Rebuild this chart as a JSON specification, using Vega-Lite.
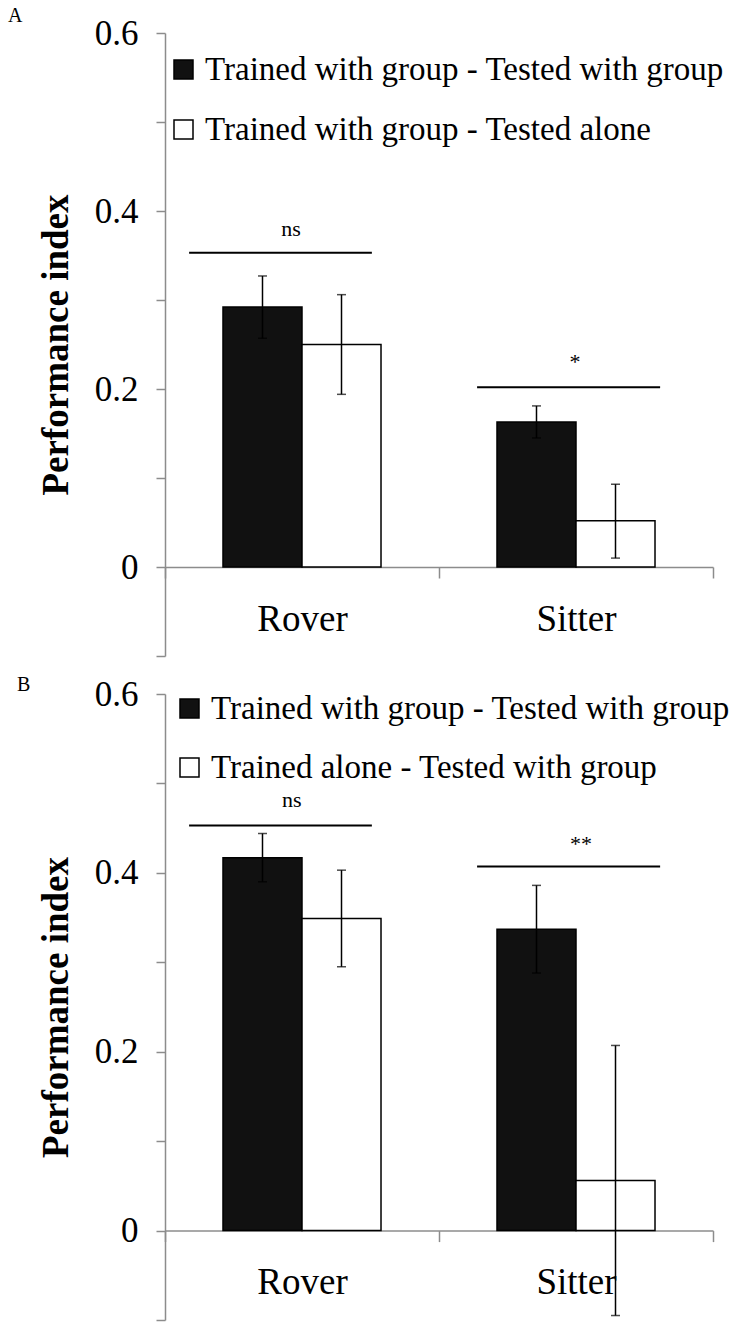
{
  "$schema": "https://vega.github.io/schema/vega-lite/v6.json",
  "padding": {"left": 8, "top": 6, "right": 0, "bottom": 0},
  "bounds": "flush",
  "spacing": 38,
  "config": {
    "view": {"stroke": null},
    "font": "Liberation Serif, Times New Roman, DejaVu Serif, serif",
    "axis": {"labelFont": "Liberation Serif, Times New Roman, DejaVu Serif, serif", "titleFont": "Liberation Serif, Times New Roman, DejaVu Serif, serif", "labelColor": "black", "titleColor": "black", "grid": false},
    "legend": {"labelFont": "Liberation Serif, Times New Roman, DejaVu Serif, serif"},
    "title": {"font": "Liberation Serif, Times New Roman, DejaVu Serif, serif"},
    "text": {"font": "Liberation Serif, Times New Roman, DejaVu Serif, serif"}
  },
  "resolve": {"scale": {"color": "independent", "xOffset": "independent"}, "legend": {"color": "independent"}},
  "vconcat": [
    {
      "width": 548,
      "height": 623,
      "title": {"text": "A", "anchor": "start", "frame": "group", "dx": -157, "offset": -10, "fontSize": 20, "fontWeight": "normal", "color": "black"},
      "layer": [
        {
          "data": {"values": [
            {"cat": "Rover", "group": "Trained with group - Tested with group", "mean": 0.292, "lo": 0.257, "hi": 0.327},
            {"cat": "Rover", "group": "Trained with group - Tested alone", "mean": 0.250, "lo": 0.194, "hi": 0.306},
            {"cat": "Sitter", "group": "Trained with group - Tested with group", "mean": 0.163, "lo": 0.145, "hi": 0.181},
            {"cat": "Sitter", "group": "Trained with group - Tested alone", "mean": 0.052, "lo": 0.010, "hi": 0.093}
          ]},
          "encoding": {
            "x": {"field": "cat", "type": "nominal", "sort": ["Rover", "Sitter"], "scale": {"domain": ["Rover", "Sitter"], "paddingInner": 0, "paddingOuter": 0},
              "axis": {"title": null, "orient": "bottom", "offset": -89, "tickBand": "extent", "tickSize": 11, "tickColor": "#8c8c8c", "tickWidth": 1.5, "domainColor": "#8c8c8c", "domainWidth": 1.5, "labelFontSize": 37, "labelPadding": 23, "labelAngle": 0}},
            "xOffset": {"field": "group", "type": "nominal", "scale": {"domain": ["Trained with group - Tested with group", "Trained with group - Tested alone"], "paddingInner": 0, "paddingOuter": 0.734}}
          },
          "layer": [
            {
              "mark": {"type": "bar", "stroke": "black", "strokeWidth": 1.5},
              "encoding": {
                "y": {"field": "mean", "type": "quantitative", "scale": {"domain": [-0.1, 0.6], "nice": false, "zero": false},
                  "axis": {"values": [-0.1, 0, 0.1, 0.2, 0.3, 0.4, 0.5, 0.6], "format": ".1f", "labelExpr": "datum.value == 0 ? '0' : (datum.value == 0.2 || datum.value == 0.4 || datum.value == 0.6) ? datum.label : ''", "title": "Performance index", "domainColor": "#8c8c8c", "domainWidth": 1.5, "tickColor": "#8c8c8c", "tickWidth": 1.5, "tickSize": 9, "labelFontSize": 35, "labelPadding": 18, "titleFontSize": 37, "titleFontWeight": "bold", "titlePadding": 19, "labelOverlap": false, "labelFlush": false}},
                "color": {"field": "group", "type": "nominal", "scale": {"domain": ["Trained with group - Tested with group", "Trained with group - Tested alone"], "range": ["#111111", "#ffffff"]},
                  "legend": {"title": null, "orient": "none", "legendX": 2, "legendY": 20, "symbolType": "square", "symbolSize": 361, "symbolStrokeColor": "black", "symbolStrokeWidth": 1.5, "labelFontSize": 33, "labelColor": "black", "labelOffset": 5, "rowPadding": 26, "padding": 0, "labelLimit": 800}}
              }
            },
            {
              "mark": {"type": "rule", "color": "black", "strokeWidth": 1.5},
              "encoding": {"y": {"field": "lo", "type": "quantitative"}, "y2": {"field": "hi"}}
            },
            {
              "mark": {"type": "tick", "orient": "horizontal", "color": "black", "size": 9, "thickness": 1.5},
              "encoding": {"y": {"field": "hi", "type": "quantitative"}}
            },
            {
              "mark": {"type": "tick", "orient": "horizontal", "color": "black", "size": 9, "thickness": 1.5},
              "encoding": {"y": {"field": "lo", "type": "quantitative"}}
            }
          ]
        },
        {
          "data": {"values": [{"cat": "Rover", "line": 0.353, "ty": 0.372, "label": "ns"}]},
          "layer": [
            {"mark": {"type": "rule", "color": "black", "strokeWidth": 2},
             "encoding": {"x": {"field": "cat", "type": "nominal", "bandPosition": 0.088}, "x2": {"field": "cat", "bandPosition": 0.755}, "y": {"field": "line", "type": "quantitative"}}},
            {"mark": {"type": "text", "fontSize": 22, "baseline": "alphabetic", "color": "black"},
             "encoding": {"x": {"field": "cat", "type": "nominal", "bandPosition": 0.46}, "y": {"field": "ty", "type": "quantitative"}, "text": {"field": "label"}}}
          ]
        },
        {
          "data": {"values": [{"cat": "Sitter", "line": 0.202, "ty": 0.222, "label": "*"}]},
          "layer": [
            {"mark": {"type": "rule", "color": "black", "strokeWidth": 2},
             "encoding": {"x": {"field": "cat", "type": "nominal", "bandPosition": 0.139}, "x2": {"field": "cat", "bandPosition": 0.807}, "y": {"field": "line", "type": "quantitative"}}},
            {"mark": {"type": "text", "fontSize": 22, "baseline": "alphabetic", "color": "black"},
             "encoding": {"x": {"field": "cat", "type": "nominal", "bandPosition": 0.496}, "y": {"field": "ty", "type": "quantitative"}, "text": {"field": "label"}}}
          ]
        }
      ]
    },
    {
      "width": 548,
      "height": 626,
      "title": {"text": "B", "anchor": "start", "frame": "group", "dx": -148, "offset": -18, "fontSize": 20, "fontWeight": "normal", "color": "black"},
      "layer": [
        {
          "data": {"values": [
            {"cat": "Rover", "group": "Trained with group - Tested with group", "mean": 0.417, "lo": 0.390, "hi": 0.444},
            {"cat": "Rover", "group": "Trained alone - Tested with group", "mean": 0.349, "lo": 0.295, "hi": 0.403},
            {"cat": "Sitter", "group": "Trained with group - Tested with group", "mean": 0.337, "lo": 0.288, "hi": 0.386},
            {"cat": "Sitter", "group": "Trained alone - Tested with group", "mean": 0.056, "lo": -0.095, "hi": 0.207}
          ]},
          "encoding": {
            "x": {"field": "cat", "type": "nominal", "sort": ["Rover", "Sitter"], "scale": {"domain": ["Rover", "Sitter"], "paddingInner": 0, "paddingOuter": 0},
              "axis": {"title": null, "orient": "bottom", "offset": -89.4, "tickBand": "extent", "tickSize": 11, "tickColor": "#8c8c8c", "tickWidth": 1.5, "domainColor": "#8c8c8c", "domainWidth": 1.5, "labelFontSize": 37, "labelPadding": 23, "labelAngle": 0}},
            "xOffset": {"field": "group", "type": "nominal", "scale": {"domain": ["Trained with group - Tested with group", "Trained alone - Tested with group"], "paddingInner": 0, "paddingOuter": 0.734}}
          },
          "layer": [
            {
              "mark": {"type": "bar", "stroke": "black", "strokeWidth": 1.5},
              "encoding": {
                "y": {"field": "mean", "type": "quantitative", "scale": {"domain": [-0.1, 0.6], "nice": false, "zero": false},
                  "axis": {"values": [-0.1, 0, 0.1, 0.2, 0.3, 0.4, 0.5, 0.6], "format": ".1f", "labelExpr": "datum.value == 0 ? '0' : (datum.value == 0.2 || datum.value == 0.4 || datum.value == 0.6) ? datum.label : ''", "title": "Performance index", "domainColor": "#8c8c8c", "domainWidth": 1.5, "tickColor": "#8c8c8c", "tickWidth": 1.5, "tickSize": 9, "labelFontSize": 35, "labelPadding": 18, "titleFontSize": 37, "titleFontWeight": "bold", "titlePadding": 19, "labelOverlap": false, "labelFlush": false}},
                "color": {"field": "group", "type": "nominal", "scale": {"domain": ["Trained with group - Tested with group", "Trained alone - Tested with group"], "range": ["#111111", "#ffffff"]},
                  "legend": {"title": null, "orient": "none", "legendX": 8, "legendY": -2, "symbolType": "square", "symbolSize": 361, "symbolStrokeColor": "black", "symbolStrokeWidth": 1.5, "labelFontSize": 33, "labelColor": "black", "labelOffset": 5, "rowPadding": 25, "padding": 0, "labelLimit": 800}}
              }
            },
            {
              "mark": {"type": "rule", "color": "black", "strokeWidth": 1.5},
              "encoding": {"y": {"field": "lo", "type": "quantitative"}, "y2": {"field": "hi"}}
            },
            {
              "mark": {"type": "tick", "orient": "horizontal", "color": "black", "size": 9, "thickness": 1.5},
              "encoding": {"y": {"field": "hi", "type": "quantitative"}}
            },
            {
              "mark": {"type": "tick", "orient": "horizontal", "color": "black", "size": 9, "thickness": 1.5},
              "encoding": {"y": {"field": "lo", "type": "quantitative"}}
            }
          ]
        },
        {
          "data": {"values": [{"cat": "Rover", "line": 0.453, "ty": 0.474, "label": "ns"}]},
          "layer": [
            {"mark": {"type": "rule", "color": "black", "strokeWidth": 2},
             "encoding": {"x": {"field": "cat", "type": "nominal", "bandPosition": 0.088}, "x2": {"field": "cat", "bandPosition": 0.755}, "y": {"field": "line", "type": "quantitative"}}},
            {"mark": {"type": "text", "fontSize": 22, "baseline": "alphabetic", "color": "black"},
             "encoding": {"x": {"field": "cat", "type": "nominal", "bandPosition": 0.463}, "y": {"field": "ty", "type": "quantitative"}, "text": {"field": "label"}}}
          ]
        },
        {
          "data": {"values": [{"cat": "Sitter", "line": 0.407, "ty": 0.425, "label": "**"}]},
          "layer": [
            {"mark": {"type": "rule", "color": "black", "strokeWidth": 2},
             "encoding": {"x": {"field": "cat", "type": "nominal", "bandPosition": 0.139}, "x2": {"field": "cat", "bandPosition": 0.807}, "y": {"field": "line", "type": "quantitative"}}},
            {"mark": {"type": "text", "fontSize": 22, "baseline": "alphabetic", "color": "black"},
             "encoding": {"x": {"field": "cat", "type": "nominal", "bandPosition": 0.518}, "y": {"field": "ty", "type": "quantitative"}, "text": {"field": "label"}}}
          ]
        }
      ]
    }
  ]
}
